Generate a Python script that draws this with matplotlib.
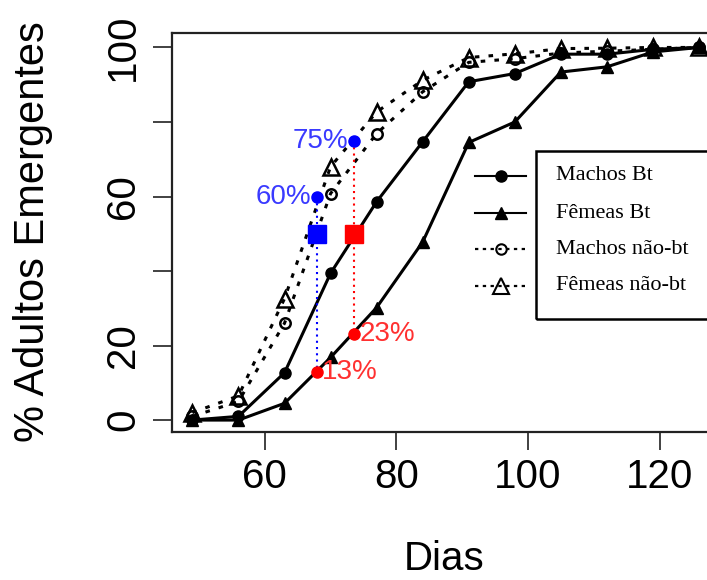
import matplotlib
matplotlib.use("Agg")
import matplotlib.pyplot as plt
from matplotlib.lines import Line2D
from matplotlib.patches import Rectangle

dias = [49, 56, 63, 70, 77, 84, 91, 98, 105, 112, 119, 126]
machos_bt = [0, 1, 12.7, 39.4, 58.6, 74.7, 90.8, 93.0, 98.2, 98.2, 99.5, 100]
femeas_bt = [0, 0, 4.5, 16.8, 30.2, 47.8, 74.5, 80.0, 93.4, 94.8, 98.8, 100]
machos_nbt = [1, 5, 26.0, 60.8, 76.9, 88.1, 96.0, 97.0, 98.5, 99.0, 99.5, 100]
femeas_nbt = [2, 6.5, 32.6, 68.0, 82.7, 91.2, 97.3, 98.3, 99.7, 99.8, 100, 100]

# pontos de referencia (50% de emergencia)
ref_x = [67.9, 73.6]
ref_azul = [60, 75]
ref_verm = [13, 23]
ref_50 = [50, 50]
rot_azul = ["60%", "75%"]
rot_verm = ["13%", "23%"]

legenda = ["Machos Bt", "Fêmeas Bt", "Machos não-bt", "Fêmeas não-bt"]

W, H = 707, 580
fig = plt.figure(figsize=(W / 100, H / 100), dpi=100)

# posicao dos eixos em pixels (borda direita fica fora da figura)
x0, x1 = 45.9, 130.0
pxu = 6.58
left_px, bottom_px, top_px = 172, 432, 33.3
ax = fig.add_axes([left_px / W, 1 - bottom_px / H,
                   (x1 - x0) * pxu / W, (bottom_px - top_px) / H])

sans = "Liberation Sans"
serif = "Liberation Serif"

ax.plot(dias, machos_bt, "-", color="black", lw=2.2, marker="o", ms=8, zorder=3)
ax.plot(dias, femeas_bt, "-", color="black", lw=2.2, marker="^", ms=9, zorder=3)
ax.plot(dias, machos_nbt, linestyle=(0, (1.5, 3)), color="black", lw=2.2,
        marker="o", ms=7.5, mfc="none", mew=1.8, zorder=3)
ax.plot(dias, femeas_nbt, linestyle=(0, (1.5, 3)), color="black", lw=2.2,
        marker="^", ms=11, mfc="none", mew=1.8, zorder=3)

# linhas verticais pontilhadas
ax.plot([ref_x[0], ref_x[0]], [ref_azul[0], ref_verm[0]], linestyle=(0, (1, 2)),
        color="blue", lw=1.5, zorder=4)
ax.plot([ref_x[1], ref_x[1]], [ref_azul[1], ref_verm[1]], linestyle=(0, (1, 2)),
        color="red", lw=1.5, zorder=4)

ax.plot(ref_x, ref_azul, "o", color="blue", ms=8, zorder=5, linestyle="none")
ax.plot(ref_x, ref_verm, "o", color="red", ms=8, zorder=5, linestyle="none")
ax.plot(ref_x[0], ref_50[0], "s", color="blue", ms=12.5, zorder=5)
ax.plot(ref_x[1], ref_50[1], "s", color="red", ms=12.5, zorder=5)

for xx, yy, t in zip(ref_x, ref_azul, rot_azul):
    ax.annotate(t, (xx, yy), xytext=(-4, 0), textcoords="offset points",
                ha="right", va="center", color="#3a3aff", fontsize=20,
                family=sans, zorder=6)
for xx, yy, t in zip(ref_x, ref_verm, rot_verm):
    ax.annotate(t, (xx, yy), xytext=(4, 0), textcoords="offset points",
                ha="left", va="center", color="#ff3030", fontsize=20,
                family=sans, zorder=6)

ax.set_xlim(x0, x1)
ax.set_ylim(-3.2, 103.8)
ax.set_xticks([60, 80, 100, 120])
ax.set_xticklabels(["60", "80", "100", "120"], fontsize=29, family=sans)
ax.set_yticks([0, 20, 40, 60, 80, 100])
ax.set_yticklabels(["0", "20", "", "60", "", "100"], fontsize=29, family=sans,
                   rotation=90, va="center")
ax.tick_params(axis="x", length=13, width=1.3, pad=6, color="#333333")
ax.tick_params(axis="y", length=13.5, width=1.3, pad=8, color="#333333")
for s in ax.spines.values():
    s.set_linewidth(1.6)
    s.set_color("#222222")

ax.set_xlabel("Dias", fontsize=29, family=sans)
ax.xaxis.set_label_coords((444 - left_px) / ((x1 - x0) * pxu), -0.271)
ax.set_ylabel("% Adultos Emergentes", fontsize=30, family=sans)
ax.yaxis.set_label_coords((53.5 - left_px) / ((x1 - x0) * pxu), 0.503)

# legenda desenhada a mao (simbolos fora da caixa, como no original)
def fx(px):
    return px / W

def fy(py):
    return 1 - py / H

fig.add_artist(Rectangle((fx(536), fy(319)), fx(740) - fx(536), fy(151) - fy(319),
                         transform=fig.transFigure, fill=False, lw=1.8,
                         edgecolor="black"))
linhas_y = [176, 213.3, 249.3, 286]
estilos = [("-", "o", 8, "black", 1.0), ("-", "^", 9, "black", 1.0),
           ((0, (1.5, 2)), "o", 7.5, "none", 1.5), ((0, (1.5, 2)), "^", 11, "none", 1.5)]
for ly, (ls, mk, ms, mfc, mew), txt in zip(linhas_y, estilos, legenda):
    fig.add_artist(Line2D([fx(475), fx(526)], [fy(ly), fy(ly)], transform=fig.transFigure,
                          color="black", lw=1.5 if ls == "-" else 1.6, linestyle=ls))
    fig.add_artist(Line2D([fx(500.5)], [fy(ly)], transform=fig.transFigure,
                          color="black", marker=mk, ms=ms, mfc=mfc, mew=mew,
                          linestyle="none"))
    fig.text(fx(556.5), fy(ly), txt, fontsize=16, family=serif, ha="left", va="center")

fig.savefig("out.png", dpi=100)
